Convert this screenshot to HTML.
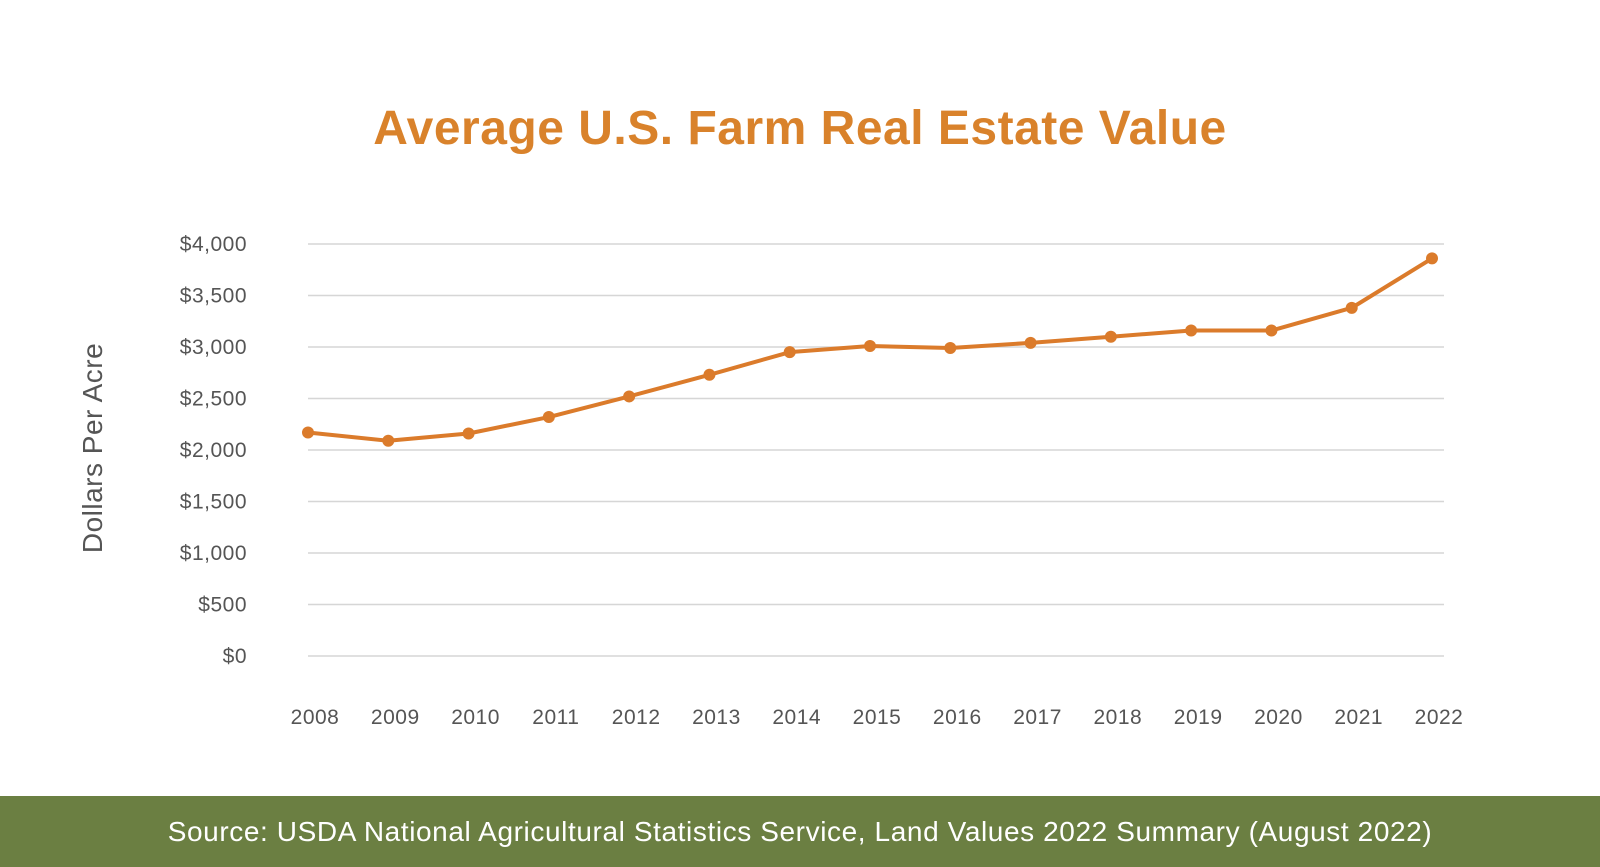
<!DOCTYPE html>
<html><head><meta charset="utf-8"><style>
html,body{margin:0;padding:0;background:#fff;}
body{width:1600px;height:867px;position:relative;overflow:hidden;font-family:"Liberation Sans",sans-serif;}
#title{position:absolute;left:0;width:1600px;top:101px;text-align:center;font-size:48px;font-weight:bold;color:#d9822b;letter-spacing:0.5px;}
#footer{position:absolute;left:0;top:796px;width:1600px;height:71px;background:#6b7f42;color:#fff;font-size:28px;letter-spacing:0.6px;line-height:71px;text-align:center;}
svg{position:absolute;left:0;top:0;}
</style></head><body>
<div id="title">Average U.S. Farm Real Estate Value</div>
<svg id="chart" width="1600" height="796"></svg>
<div id="footer">Source: USDA National Agricultural Statistics Service, Land Values 2022 Summary (August 2022)</div>
<script>
const years=["2008","2009","2010","2011","2012","2013","2014","2015","2016","2017","2018","2019","2020","2021","2022"];
const values=[2170,2090,2160,2320,2520,2730,2950,3010,2990,3040,3100,3160,3160,3380,3860];
const yTicks=[0,500,1000,1500,2000,2500,3000,3500,4000];
const yTickLabels=["$0","$500","$1,000","$1,500","$2,000","$2,500","$3,000","$3,500","$4,000"];
const NS="http://www.w3.org/2000/svg";
const svg=document.getElementById('chart');
const x0=308,x1=1432,gx1=1444,yb=656,yt=244,ymax=4000;
const xs=i=>x0+(x1-x0)*i/(years.length-1);
const ys=v=>yb-(yb-yt)*v/ymax;
function mk(t,a){const e=document.createElementNS(NS,t);for(const k in a)e.setAttribute(k,a[k]);svg.appendChild(e);return e;}
yTicks.forEach((v,i)=>{
 const l=mk('line',{x1:x0,x2:gx1,y1:ys(v),y2:ys(v),stroke:'#d6d6d6','stroke-width':1.5});
 
 
 const t=mk('text',{x:247,y:ys(v)+7,'text-anchor':'end','font-size':21,'letter-spacing':0.5,fill:'#555','font-family':'Liberation Sans, sans-serif'});
 t.textContent=yTickLabels[i];
 
 
});
years.forEach((y,i)=>{
 const t=mk('text',{x:xs(i)+7,y:724,'text-anchor':'middle','font-size':21,'letter-spacing':0.5,fill:'#555','font-family':'Liberation Sans, sans-serif'});
 t.textContent=y;
 
 
});
const yt2=mk('text',{x:0,y:0,transform:'translate(102,448) rotate(-90)','text-anchor':'middle','font-size':28,'letter-spacing':0.5,fill:'#555','font-family':'Liberation Sans, sans-serif'});
yt2.textContent='Dollars Per Acre';


const p=mk('polyline',{points:values.map((v,i)=>xs(i)+','+ys(v)).join(' '),fill:'none',stroke:'#db7b2b','stroke-width':4,'stroke-linejoin':'round'});


values.forEach((v,i)=>{
 const c=mk('circle',{cx:xs(i),cy:ys(v),r:6,fill:'#db7b2b'});
 
 
});
</script>
</body></html>
